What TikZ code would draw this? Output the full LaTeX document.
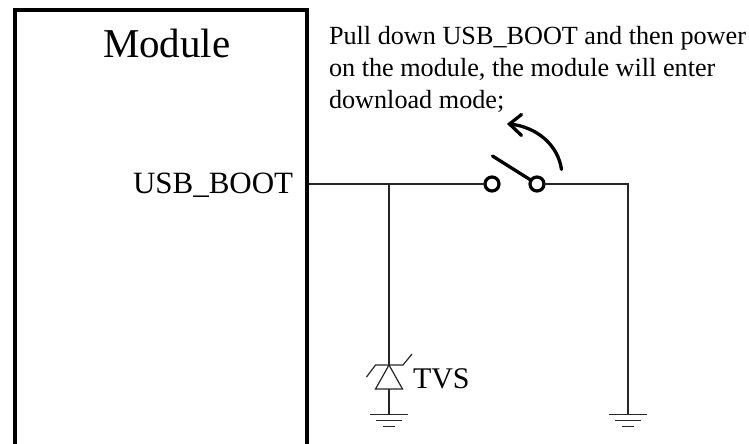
\documentclass[tikz,border=0pt]{standalone}
\usepackage{fontspec}
\setmainfont{Liberation Serif}
\begin{document}
\begin{tikzpicture}[x=1pt,y=-1pt,
  wire/.style={line width=1.2pt,black!85},
  heavy/.style={line width=3.3pt,line cap=round},
  contact/.style={circle,draw,line width=3.2pt,minimum size=14pt,inner sep=0pt,outer sep=0pt},
  lbl/.style={inner sep=0pt,outer sep=0pt,anchor=base west,text=black}]
\useasboundingbox (0,0) rectangle (749,444);
% module box, open at the picture's lower edge
\draw[line width=3.6pt,line join=miter] (15,448) -- (15,10) -- (307,10) -- (307,448);
\node[lbl,font=\fontsize{41}{41}\selectfont] (module) at (103,57) {Module};
\node[lbl,font=\fontsize{31}{31}\selectfont] (usbboot) at (133,193.5) {USB\_BOOT};
\node[lbl,font=\fontsize{26.2}{26.2}\selectfont] (note1) at (329,44.5) {Pull down USB\_BOOT and then power};
\node[lbl,font=\fontsize{26.2}{26.2}\selectfont] (note2) at (329,76.5) {on the module, the module will enter};
\node[lbl,font=\fontsize{26.2}{26.2}\selectfont] (note3) at (329,108) {download mode;};
\node[lbl,font=\fontsize{30}{30}\selectfont] (tvs) at (413,388) {TVS};
% named points
\coordinate (pin) at (309,184);
\coordinate (junction) at (389,184);
\coordinate (corner) at (628,184);
\coordinate (gndB) at (628,414.5);
\coordinate (tvsTop) at (389,365);
\coordinate (tvsBase) at (389,389);
\coordinate (gndA) at (389,414.5);
\node[contact] (swA) at (492,184) {};
\node[contact] (swB) at (537,184) {};
% wires
\draw[wire] (pin) -- (junction) -- (swA);
\draw[wire] (swB) -- (corner) -- (gndB);
\draw[wire] (junction) -- (tvsTop);
\draw[wire] (tvsBase) -- (gndA);
% switch blade and arrow
\draw[heavy] (492.5,156) -- (swB);
\draw[heavy] (561.5,169.5) .. controls (558,145) and (537,127) .. (510,124);
\draw[heavy,line join=miter] (521.5,114.5) -- (509.5,124) -- (521.5,135.5);
% TVS
\draw[wire,line join=miter] (389,365) -- (375.5,389) -- (402.5,389) -- cycle;
\draw[wire] (366.5,377) -- (375.5,365) -- (403,365) -- (412,354);
% grounds
\draw[wire] (370,414.5) -- (408,414.5) (376,420.7) -- (402,420.7) (383,426.7) -- (395,426.7);
\draw[wire] (609,414.5) -- (647,414.5) (615,420.7) -- (641,420.7) (621.5,426.7) -- (634,426.7);
\end{tikzpicture}
\end{document}
